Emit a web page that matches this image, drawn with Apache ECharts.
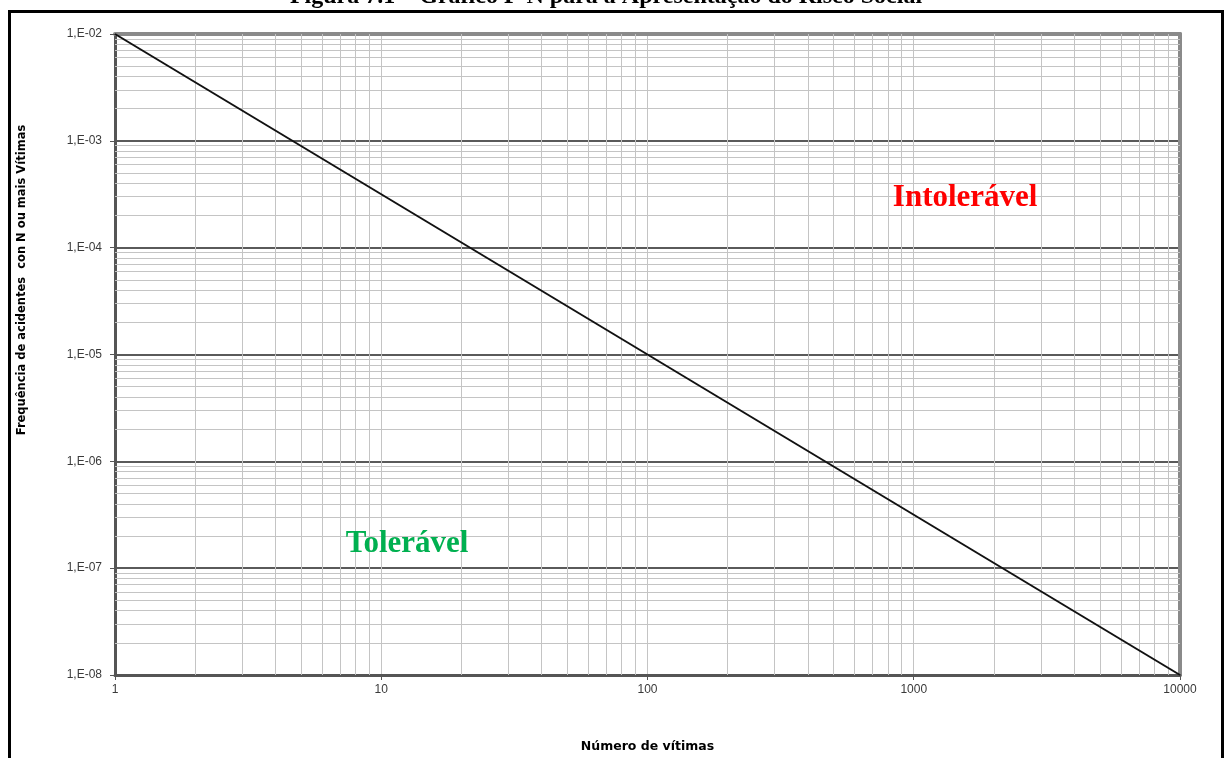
<!DOCTYPE html>
<html>
<head>
<meta charset="utf-8">
<script src="https://cdn.jsdelivr.net/npm/echarts@6/dist/echarts.min.js"></script>
<style>
html,body{margin:0;padding:0;background:#fff;}
#chart{width:1226px;height:758px;}
</style>
</head>
<body>
<div id="chart"></div>
<script>
// ---- data ----
const titleText = 'Figura 7.1 – Gráfico F-N para a Apresentação do Risco Social';
const xName = 'Número de vítimas';
const yName = 'Frequência de acidentes  con N ou mais Vítimas';
const xTicks = [1, 10, 100, 1000, 10000];
const xTickLabels = ['1', '10', '100', '1000', '10000'];
const yTicks = [1e-8, 1e-7, 1e-6, 1e-5, 1e-4, 1e-3, 1e-2];
const yTickLabels = ['1,E-08', '1,E-07', '1,E-06', '1,E-05', '1,E-04', '1,E-03', '1,E-02'];
const lineX = [1, 10000];
const lineY = [1e-2, 1e-8];
const annoText = ['Intolerável', 'Tolerável'];
const annoX = [1560, 12.5];
const annoY = [2.9e-4, 1.7e-7];
const annoColor = ['#ff0000', '#00b050'];
const minorSteps = [2, 3, 4, 5, 6, 7, 8, 9];

// ---- build ----
const xMin = xTicks[0], xMax = xTicks[xTicks.length - 1];
const yMin = yTicks[0], yMax = yTicks[yTicks.length - 1];
const xMinor = [];
xTicks.slice(0, -1).forEach(d => minorSteps.forEach(k => xMinor.push([{ coord: [k * d, yMin] }, { coord: [k * d, yMax] }])));
const yMinor = [];
yTicks.slice(0, -1).forEach(d => minorSteps.forEach(k => yMinor.push([{ coord: [xMin, k * d] }, { coord: [xMax, k * d] }])));

function nearestLabel(v, ticks, labels) {
  let best = -1, bd = Infinity;
  ticks.forEach((t, i) => { const dd = Math.abs(Math.log10(v) - Math.log10(t)); if (dd < bd) { bd = dd; best = i; } });
  return bd < 1e-6 ? labels[best] : '';
}

const chart = echarts.init(document.getElementById('chart'));
const tickFont = { fontFamily: 'Liberation Sans, Arial, sans-serif', fontSize: 12, color: '#3a3a3a' };

chart.setOption({
  backgroundColor: '#fff',
  animation: false,
  grid: { left: 115, right: 46, top: 34, bottom: 83, containLabel: false },
  xAxis: [
    {
      type: 'log', logBase: 10, min: xMin, max: xMax, interval: 1,
      position: 'bottom',
      name: xName, nameLocation: 'middle', nameGap: 65,
      nameTextStyle: { fontFamily: 'DejaVu Sans, sans-serif', fontSize: 12.5, fontWeight: 'bold', color: '#000' },
      axisLine: { show: true, lineStyle: { color: '#555', width: 3 } },
      axisTick: { show: true, length: 5, lineStyle: { color: '#555', width: 1 } },
      axisLabel: Object.assign({ margin: 9, formatter: v => nearestLabel(v, xTicks, xTickLabels) }, tickFont),
      splitLine: { show: true, lineStyle: { color: '#c4c4c4', width: 1 } },
      minorTick: { show: false }, minorSplitLine: { show: false }
    },
    {
      type: 'log', logBase: 10, min: xMin, max: xMax, interval: 1,
      position: 'top',
      axisLine: { show: true, lineStyle: { color: '#8a8a8a', width: 4 } },
      axisTick: { show: false }, axisLabel: { show: false }, splitLine: { show: false }
    }
  ],
  yAxis: [
    {
      type: 'log', logBase: 10, min: yMin, max: yMax, interval: 1,
      position: 'left',
      axisLine: { show: true, lineStyle: { color: '#555', width: 3 } },
      axisTick: { show: true, length: 5, lineStyle: { color: '#555', width: 1 } },
      axisLabel: Object.assign({ margin: 13, formatter: v => nearestLabel(v, yTicks, yTickLabels) }, tickFont),
      splitLine: { show: true, lineStyle: { color: '#5a5a5a', width: 2 } },
      minorTick: { show: false }, minorSplitLine: { show: false }
    },
    {
      type: 'log', logBase: 10, min: yMin, max: yMax, interval: 1,
      position: 'right',
      axisLine: { show: true, lineStyle: { color: '#8a8a8a', width: 4 } },
      axisTick: { show: false }, axisLabel: { show: false }, splitLine: { show: false }
    }
  ],
  series: [
    {
      name: 'minorGrid', type: 'line', data: [], silent: true, z: 1,
      markLine: {
        silent: true, symbol: 'none', label: { show: false }, animation: false,
        lineStyle: { color: '#c4c4c4', width: 1, type: 'solid' },
        emphasis: { disabled: true },
        data: xMinor.concat(yMinor)
      }
    },
    {
      name: 'F-N', type: 'line', z: 5,
      data: lineX.map((x, i) => [x, lineY[i]]),
      showSymbol: false, symbol: 'none',
      lineStyle: { color: '#111', width: 2 }
    },
    {
      name: 'labels', type: 'scatter', z: 6, symbolSize: 0, silent: true,
      itemStyle: { opacity: 1 },
      data: annoText.map((t, i) => ({
        value: [annoX[i], annoY[i]], name: t,
        itemStyle: { opacity: 1 },
        label: { show: true, position: 'inside', formatter: t, color: annoColor[i], opacity: 1,
          fontFamily: 'Liberation Serif, Times New Roman, serif', fontWeight: 'bold', fontSize: 31 }
      }))
    }
  ],
  graphic: [
    { type: 'rect', silent: true, z: 100,
      shape: { x: 9.5, y: 11.5, width: 1213, height: 800 },
      style: { fill: 'none', stroke: '#000', lineWidth: 3 } },
    { type: 'text', silent: true, z: 100, x: 606, y: -3,
      style: { text: titleText, fill: '#000', align: 'center', verticalAlign: 'middle',
        font: 'bold 24px "Liberation Serif", "Times New Roman", serif' } },
    { type: 'text', silent: true, z: 100, x: 22, y: 280, rotation: Math.PI / 2,
      style: { text: yName, fill: '#000', align: 'center', verticalAlign: 'middle',
        font: 'bold 11.5px "DejaVu Sans", sans-serif' } }
  ]
});
</script>
</body>
</html>
